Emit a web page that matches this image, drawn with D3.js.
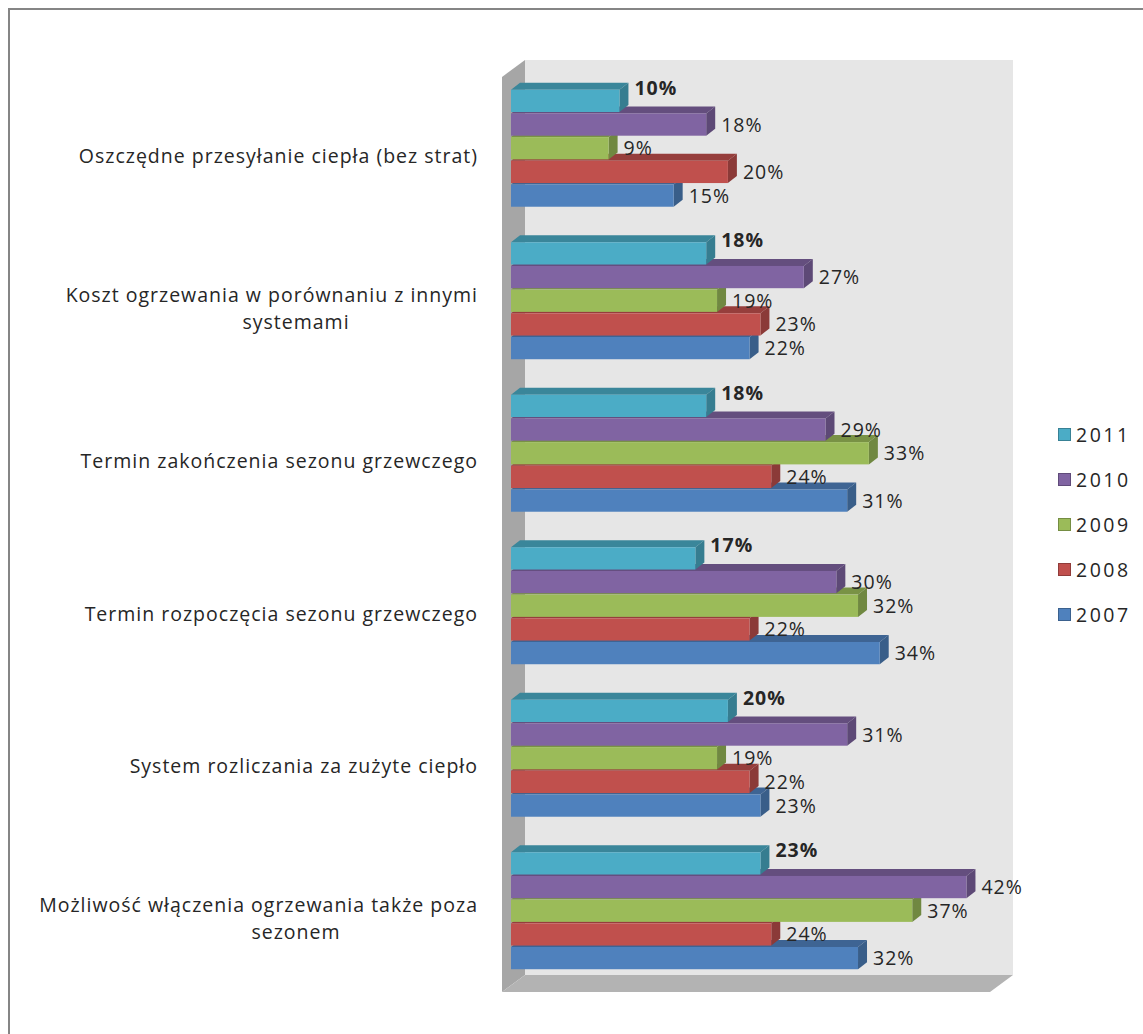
<!DOCTYPE html>
<html>
<head>
<meta charset="utf-8">
<script src="https://cdn.jsdelivr.net/npm/d3@7"></script>
<style>
  html, body { margin: 0; padding: 0; background: #fff; }
  svg { display: block; }
  text { font-family: "Open Sans", "Noto Sans", sans-serif; fill: #262626; }
</style>
</head>
<body>
<svg id="chart" width="1143" height="1034"></svg>
<script>
// Survey answers by category (percent), one array per year
const categories = [
  "Oszczędne przesyłanie ciepła (bez strat)",
  "Koszt ogrzewania w porównaniu z innymi|systemami",
  "Termin zakończenia sezonu grzewczego",
  "Termin rozpoczęcia sezonu grzewczego",
  "System rozliczania za zużyte ciepło",
  "Możliwość włączenia ogrzewania także poza|sezonem"
];
const seriesNames = ["2011", "2010", "2009", "2008", "2007"];
const values2011 = [10, 18, 18, 17, 20, 23];
const values2010 = [18, 27, 29, 30, 31, 42];
const values2009 = [9, 19, 33, 32, 19, 37];
const values2008 = [20, 23, 24, 22, 22, 24];
const values2007 = [15, 22, 31, 34, 23, 32];
const seriesValues = [values2011, values2010, values2009, values2008, values2007];
const seriesColors = ["#4bacc6", "#8064a2", "#9bbb59", "#c0504d", "#4f81bd"];
const axisMax = 45;

const svg = d3.select("#chart");
const FONT = 19.5, SPACING = 1;

// outer chart frame
svg.append("rect")
  .attr("x", 9).attr("y", 9).attr("width", 1300).attr("height", 1200)
  .attr("fill", "#fff").attr("stroke", "#858585").attr("stroke-width", 2);

// scales: x for bar front faces, y bands for categories and years
const x = d3.scaleLinear().domain([0, axisMax]).range([511, 999]);
const y = d3.scaleBand().domain(d3.range(categories.length))
  .range([72, 987]).paddingInner(0.233).paddingOuter(0.1165);
const ys = d3.scaleBand().domain(seriesNames).range([0, y.bandwidth()]).paddingInner(0.06).paddingOuter(0);

// 3D depth offsets
const barDx = 9, barDy = 7;          // bar thickness
const wallFront = {dx: -9, dy: 7};   // front plane relative to bar front
const wallBack = {dx: 14, dy: -10};  // back wall relative to bar front

const plotTop = 60 - wallBack.dy;          // front-face coordinates of plot top
const plotBottom = 975 - wallBack.dy;

// back wall
svg.append("rect")
  .attr("x", x(0) + wallBack.dx).attr("y", plotTop + wallBack.dy)
  .attr("width", x(axisMax) - x(0)).attr("height", plotBottom - plotTop)
  .attr("fill", "#e6e6e6");

// side wall
const sx0 = x(0) + wallFront.dx, sx1 = x(0) + wallBack.dx;
svg.append("polygon")
  .attr("points", [
    [sx0, plotTop + wallFront.dy], [sx1, plotTop + wallBack.dy],
    [sx1, plotBottom + wallBack.dy], [sx0, plotBottom + wallFront.dy]
  ].map(p => p.join(",")).join(" "))
  .attr("fill", "#a6a6a6");

// floor
svg.append("polygon")
  .attr("points", [
    [sx0, plotBottom + wallFront.dy], [sx1, plotBottom + wallBack.dy],
    [x(axisMax) + wallBack.dx, plotBottom + wallBack.dy],
    [x(axisMax) + wallFront.dx, plotBottom + wallFront.dy]
  ].map(p => p.join(",")).join(" "))
  .attr("fill", "#b3b3b3");

// flatten into bar records
const bars = [];
seriesNames.forEach((s, si) => {
  seriesValues[si].forEach((v, ci) => {
    bars.push({series: s, si, ci, value: v, color: seriesColors[si]});
  });
});

const faceH = ys.bandwidth();
const barsG = svg.append("g");
// draw lower bars first so upper front faces cover their top faces
const ordered = bars.slice().sort((a, b) => (b.ci - a.ci) || (b.si - a.si));
ordered.forEach(d => {
  const y0 = y(d.ci) + ys(d.series);
  const x0 = x(0), x1 = x(d.value);
  const c = d3.color(d.color);
  const g = barsG.append("g");
  g.append("polygon")
    .attr("points", [[x0, y0], [x0 + barDx, y0 - barDy], [x1 + barDx, y0 - barDy], [x1, y0]].map(p => p.join(",")).join(" "))
    .attr("fill", c.darker(0.7));
  g.append("polygon")
    .attr("points", [[x1, y0], [x1 + barDx, y0 - barDy], [x1 + barDx, y0 + faceH - barDy], [x1, y0 + faceH]].map(p => p.join(",")).join(" "))
    .attr("fill", c.darker(0.9));
  g.append("rect")
    .attr("x", x0).attr("y", y0).attr("width", x1 - x0).attr("height", faceH)
    .attr("fill", d.color);
});

// value labels
svg.append("g").selectAll("text").data(bars).join("text")
  .attr("x", d => x(d.value) + 15)
  .attr("y", d => y(d.ci) + ys(d.series) + faceH / 2 + (d.si === 0 ? -13 : 0))
  .attr("dy", "0.36em")
  .attr("font-size", FONT)
  .attr("letter-spacing", SPACING)
  .attr("font-weight", d => d.si === 0 ? "bold" : "normal")
  .text(d => d.value + "%");

// category labels
const catG = svg.append("g");
categories.forEach((c, i) => {
  const lines = c.split("|");
  const cy = y(i) + y.bandwidth() / 2 + 8;
  const lh = 27;
  lines.forEach((ln, k) => {
    const ty = cy + (k - (lines.length - 1) / 2) * lh;
    catG.append("text")
      .attr("x", k === 0 ? 478 : 296)
      .attr("y", ty).attr("dy", "0.36em")
      .attr("text-anchor", k === 0 ? "end" : "middle")
      .attr("font-size", FONT)
      .attr("letter-spacing", SPACING)
      .text(ln);
  });
});

// legend
const legend = svg.append("g");
seriesNames.forEach((s, i) => {
  const cy = 435 + i * 45;
  legend.append("rect")
    .attr("x", 1058.5).attr("y", cy - 6.5).attr("width", 12).attr("height", 12)
    .attr("fill", seriesColors[i]).attr("stroke", d3.color(seriesColors[i]).darker(0.8)).attr("stroke-width", 1);
  legend.append("text")
    .attr("x", 1076).attr("y", cy).attr("dy", "0.36em")
    .attr("font-size", FONT).attr("letter-spacing", 2.5)
    .text(s);
});
</script>
</body>
</html>
